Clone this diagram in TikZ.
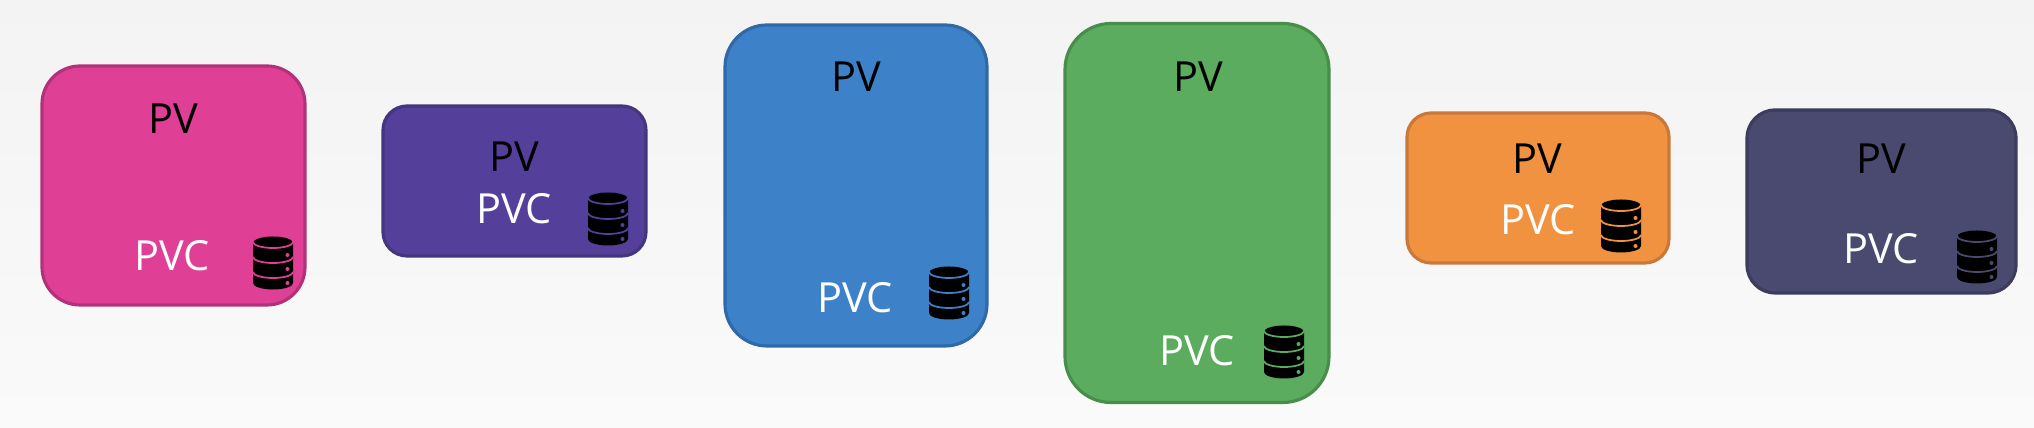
\documentclass[tikz,border=0pt]{standalone}
\usepackage{fontspec}
\setmainfont{Open Sans}
\usepackage{tikz}
\usetikzlibrary{shapes,arrows}

\definecolor{pinkfill}{HTML}{E03F96}
\definecolor{pinkline}{HTML}{B23279}
\definecolor{purplefill}{HTML}{54409A}
\definecolor{purpleline}{HTML}{44357F}
\definecolor{bluefill}{HTML}{3D82C9}
\definecolor{blueline}{HTML}{2F69A6}
\definecolor{greenfill}{HTML}{5BAC5E}
\definecolor{greenline}{HTML}{488E4B}
\definecolor{orangefill}{HTML}{F19240}
\definecolor{orangeline}{HTML}{C8783A}
\definecolor{slatefill}{HTML}{4A4A70}
\definecolor{slateline}{HTML}{3C3C5C}
\definecolor{backtop}{HTML}{F3F3F3}
\definecolor{backbottom}{HTML}{FAFAFA}

\tikzset{
    volbox/.style={draw,line width=0.9pt,inner sep=0pt},
    pvlabel/.style={inner sep=0pt,text=black,font=\fontsize{11.8}{13}\selectfont},
    pvclabel/.style={inner sep=0pt,text=white,font=\fontsize{11.8}{13}\selectfont},
}

% database icon: centre x, centre y, colour showing through
\newcommand{\dbicon}[3]{
    \begin{scope}[shift={(#1,#2)}]
    \fill[black] (-0.2,0.2) arc[start angle=180,end angle=0,x radius=0.2,y radius=0.065]
        -- (0.2,-0.2) arc[start angle=0,end angle=-180,x radius=0.2,y radius=0.065] -- cycle;
    \foreach \y in {0.21,0.06,-0.09}
        \draw[#3,line width=0.5pt] (-0.2,\y) arc[start angle=180,end angle=360,x radius=0.2,y radius=0.06];
    \foreach \y in {0.08,-0.06,-0.2}
        \fill[#3] (0.145,\y) circle (0.02);
    \end{scope}
}

\begin{document}
\begin{tikzpicture}[auto, thick]

% page, 100 px of the picture = 1 cm
\shade[top color=backtop,bottom color=backbottom] (0,0) rectangle (20.34,4.28);
\useasboundingbox (0,0) rectangle (20.34,4.28);

\draw
    node at(1.735,2.425)[volbox,fill=pinkfill,draw=pinkline,minimum width=2.63cm,minimum height=2.39cm,rounded corners=0.38cm,name=pinkbox]{}
    node at(5.145,2.47)[volbox,fill=purplefill,draw=purpleline,minimum width=2.63cm,minimum height=1.5cm,rounded corners=0.24cm,name=purplebox]{}
    node at(8.56,2.425)[volbox,fill=bluefill,draw=blueline,minimum width=2.62cm,minimum height=3.21cm,rounded corners=0.42cm,name=bluebox]{}
    node at(11.97,2.15)[volbox,fill=greenfill,draw=greenline,minimum width=2.64cm,minimum height=3.79cm,rounded corners=0.46cm,name=greenbox]{}
    node at(15.38,2.4)[volbox,fill=orangefill,draw=orangeline,minimum width=2.62cm,minimum height=1.5cm,rounded corners=0.24cm,name=orangebox]{}
    node at(18.815,2.265)[volbox,fill=slatefill,draw=slateline,minimum width=2.69cm,minimum height=1.83cm,rounded corners=0.28cm,name=slatebox]{}

    node at(1.73,3.09)[pvlabel,name=pinkpv]{PV}
    node at(1.72,1.72)[pvclabel,name=pinkpvc]{PVC}
    node at(5.14,2.71)[pvlabel,name=purplepv]{PV}
    node at(5.14,2.19)[pvclabel,name=purplepvc]{PVC}
    node at(8.56,3.51)[pvlabel,name=bluepv]{PV}
    node at(8.55,1.3)[pvclabel,name=bluepvc]{PVC}
    node at(11.98,3.51)[pvlabel,name=greenpv]{PV}
    node at(11.97,0.77)[pvclabel,name=greenpvc]{PVC}
    node at(15.37,2.69)[pvlabel,name=orangepv]{PV}
    node at(15.38,2.08)[pvclabel,name=orangepvc]{PVC}
    node at(18.81,2.69)[pvlabel,name=slatepv]{PV}
    node at(18.81,1.79)[pvclabel,name=slatepvc]{PVC}
;

\dbicon{2.73}{1.65}{pinkfill}
\dbicon{6.08}{2.09}{purplefill}
\dbicon{9.49}{1.35}{bluefill}
\dbicon{12.84}{0.76}{greenfill}
\dbicon{16.21}{2.02}{orangefill}
\dbicon{19.77}{1.71}{slatefill}

\end{tikzpicture}
\end{document}
